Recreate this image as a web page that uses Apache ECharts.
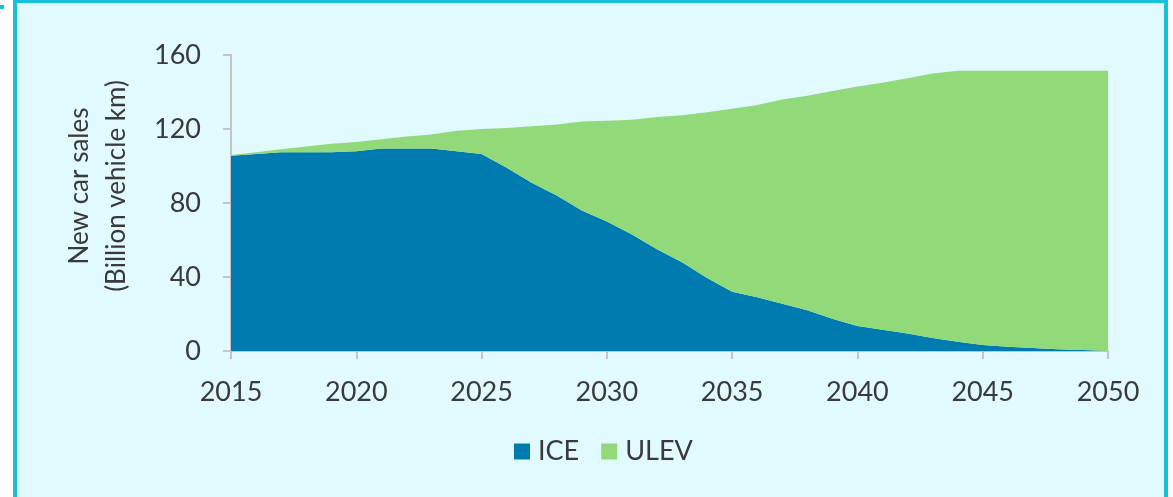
<!DOCTYPE html>
<html>
<head>
<meta charset="utf-8">
<script src="https://cdn.jsdelivr.net/npm/echarts@6/dist/echarts.min.js"></script>
<style>
  html, body { margin: 0; padding: 0; background: #fff; }
  #main { width: 1173px; height: 497px; }
</style>
</head>
<body>
<div id="main"></div>
<script>
// years on the x axis
var years = [];
for (var y = 2015; y <= 2050; y++) years.push(String(y));

// ICE new car sales (billion vehicle km)
var iceValues = [105.5, 106.5, 107.5, 107.5, 107.5, 108, 109.5, 109.5, 109.5, 108,
    106.5, 99, 91, 84, 76, 70, 63, 55, 48, 39.5,
    32, 29, 25.5, 22, 17.5, 13.5, 11.5, 9.5, 7, 5,
    3.2, 2.3, 1.6, 1, 0.5, 0];

// ULEV new car sales, stacked on top of ICE
var ulevValues = [0.5, 1, 1.5, 3, 4.5, 5, 5, 6.5, 7.5, 11,
    13.5, 21.5, 30.5, 38.5, 48, 54.5, 62, 71.5, 79.5, 89.5,
    99, 104, 110.5, 116, 123, 129.5, 133.5, 138, 143, 146.5,
    148.3, 149.2, 149.9, 150.5, 151, 151.5];

var seriesNames = ['ICE', 'ULEV'];
var yTicks = { min: 0, max: 160, interval: 40 };

var textFont = 'Lato, "Open Sans", sans-serif';
var textColor = '#3a3a3a';
var textWeight = 'normal';

var chart = echarts.init(document.getElementById('main'));
chart.setOption({
    backgroundColor: '#ffffff',
    animation: false,
    color: ['#007bb0', '#92d97a'],
    graphic: [{
        type: 'rect',
        z: -10,
        shape: { x: 15, y: 1, width: 1151, height: 530 },
        style: { fill: '#e1fafe', stroke: '#17c0d8', lineWidth: 4 }
    }, {
        type: 'rect',
        z: -10,
        shape: { x: 0, y: 5, width: 4, height: 4 },
        style: { fill: '#17c0d8' }
    }, {
        // y axis title, two lines, reading upwards
        type: 'text',
        x: 98,
        y: 186,
        rotation: Math.PI / 2,
        style: {
            text: 'New car sales\n(Billion vehicle km)',
            fontFamily: textFont,
            fontWeight: textWeight,
            fontSize: 26,
            lineHeight: 37,
            fill: textColor,
            align: 'center',
            verticalAlign: 'middle'
        }
    }],
    legend: {
        bottom: 27,
        left: 509,
        itemWidth: 16,
        itemHeight: 16,
        itemGap: 22,
        icon: 'rect',
        textStyle: {
            fontFamily: textFont,
            fontWeight: textWeight,
            fontSize: 27,
            color: textColor,
            padding: [0, 0, 0, 3]
        },
        data: seriesNames
    },
    grid: {
        left: 231,
        right: 65,
        top: 55,
        bottom: 146
    },
    xAxis: {
        type: 'category',
        boundaryGap: false,
        data: years,
        axisLine: { lineStyle: { color: '#c4c4c4', width: 2 } },
        axisTick: { interval: 4, length: 8, lineStyle: { color: '#c4c4c4', width: 2 } },
        axisLabel: {
            interval: 4,
            margin: 28,
            fontFamily: textFont,
            fontWeight: textWeight,
            fontSize: 27,
            color: textColor
        },
        splitLine: { show: false }
    },
    yAxis: {
        type: 'value',
        min: yTicks.min,
        max: yTicks.max,
        interval: yTicks.interval,
        axisLine: { show: true, lineStyle: { color: '#c4c4c4', width: 2 } },
        axisTick: { show: true, length: 8, lineStyle: { color: '#c4c4c4', width: 2 } },
        axisLabel: {
            margin: 30,
            fontFamily: textFont,
            fontWeight: textWeight,
            fontSize: 27,
            color: textColor
        },
        splitLine: { show: false }
    },
    series: [{
        name: seriesNames[0],
        type: 'line',
        stack: 'sales',
        symbol: 'none',
        lineStyle: { width: 0 },
        areaStyle: { opacity: 1 },
        data: iceValues
    }, {
        name: seriesNames[1],
        type: 'line',
        stack: 'sales',
        symbol: 'none',
        lineStyle: { width: 0 },
        areaStyle: { opacity: 1 },
        data: ulevValues
    }]
});
</script>
</body>
</html>
